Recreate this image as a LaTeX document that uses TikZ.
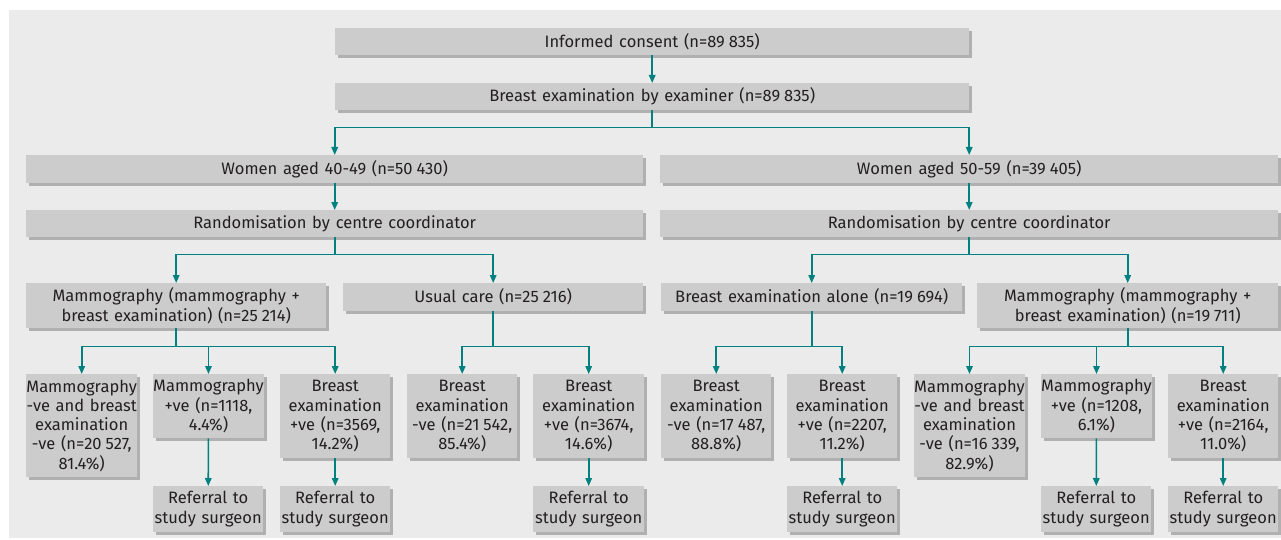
\documentclass[tikz,border=0pt]{standalone}
\usepackage{fontspec}
\setmainfont{Fira Sans}[WordSpace=1.3]
\usetikzlibrary{arrows.meta,shadows}
\definecolor{bggray}{HTML}{EBEBEB}
\definecolor{boxgray}{HTML}{CCCCCC}
\definecolor{shadowgray}{HTML}{B0B0B0}
\definecolor{arrowteal}{HTML}{00807F}
\definecolor{txt}{HTML}{231F20}
\newcommand{\ns}{\hspace{4pt}}
\begin{document}
\begin{tikzpicture}[x=1pt,y=-1pt,
  font=\fontsize{16.5}{19.3}\selectfont,
  box/.style={fill=boxgray, draw=none, inner sep=0pt, align=center, text=txt, anchor=north west,
    drop shadow={fill=shadowgray, opacity=1, shadow xshift=3pt, shadow yshift=-3pt}},
  arr/.style={draw=arrowteal, line width=1.6pt, -{Triangle[length=8pt,width=6.5pt]}}]
\useasboundingbox (0,0) rectangle (1281,540);
\fill[bggray] (9,10) rectangle (1281,538);
% top
\node[box, minimum width=634pt, minimum height=27pt] (consent) at (335,28) {Informed consent (n=89\ns835)};
\node[box, minimum width=634pt, minimum height=27pt] (exam) at (335,83) {Breast examination by examiner (n=89\ns835)};
\node[box, minimum width=617pt, minimum height=28pt] (w40) at (26,155) {Women aged 40-49 (n=50\ns430)};
\node[box, minimum width=618pt, minimum height=28pt] (w50) at (660,155) {Women aged 50-59 (n=39\ns405)};
\node[box, minimum width=617pt, minimum height=27pt] (r40) at (26,210) {Randomisation by centre coordinator};
\node[box, minimum width=618pt, minimum height=27pt] (r50) at (660,210) {Randomisation by centre coordinator};
% second level
\node[box, minimum width=300pt, minimum height=45pt] (mam40) at (26,283) {Mammography (mammography +\\breast examination) (n=25\ns214)};
\node[box, minimum width=300pt, minimum height=28pt] (usual) at (343,283) {Usual care (n=25\ns216)};
\node[box, minimum width=301pt, minimum height=28pt] (alone) at (661,283) {Breast examination alone (n=19\ns694)};
\node[box, minimum width=301pt, minimum height=45pt] (mam50) at (977,283) {Mammography (mammography +\\breast examination) (n=19\ns711)};
% children
\node[box, minimum width=111pt, minimum height=103pt] (c1) at (26,374) {Mammography\\-ve and breast\\examination\\-ve (n=20\ns527,\\81.4\%)};
\node[box, minimum width=110pt, minimum height=64pt] (c2) at (153,374) {Mammography\\+ve (n=1118,\\4.4\%)};
\node[box, minimum width=110pt, minimum height=84pt] (c3) at (280,374) {Breast\\examination\\+ve (n=3569,\\14.2\%)};
\node[box, minimum width=110pt, minimum height=84pt] (c4) at (407,374) {Breast\\examination\\-ve (n=21\ns542,\\85.4\%)};
\node[box, minimum width=111pt, minimum height=84pt] (c5) at (533,374) {Breast\\examination\\+ve (n=3674,\\14.6\%)};
\node[box, minimum width=110pt, minimum height=84pt] (c6) at (661,374) {Breast\\examination\\-ve (n=17\ns487,\\88.8\%)};
\node[box, minimum width=110pt, minimum height=84pt] (c7) at (787,374) {Breast\\examination\\+ve (n=2207,\\11.2\%)};
\node[box, minimum width=110pt, minimum height=103pt] (c8) at (914,374) {Mammography\\-ve and breast\\examination\\-ve (n=16\ns339,\\82.9\%)};
\node[box, minimum width=110pt, minimum height=64pt] (c9) at (1041,374) {Mammography\\+ve (n=1208,\\6.1\%)};
\node[box, minimum width=110pt, minimum height=84pt] (c10) at (1168,374) {Breast\\examination\\+ve (n=2164,\\11.0\%)};
% referrals
\node[box, minimum width=110pt, minimum height=46pt] (f2) at (153,486) {Referral to\\study surgeon};
\node[box, minimum width=110pt, minimum height=46pt] (f3) at (280,486) {Referral to\\study surgeon};
\node[box, minimum width=111pt, minimum height=46pt] (f5) at (533,486) {Referral to\\study surgeon};
\node[box, minimum width=110pt, minimum height=46pt] (f7) at (787,486) {Referral to\\study surgeon};
\node[box, minimum width=110pt, minimum height=46pt] (f9) at (1041,486) {Referral to\\study surgeon};
\node[box, minimum width=110pt, minimum height=46pt] (f10) at (1168,486) {Referral to\\study surgeon};
% connectors
\draw[arr] (consent) -- (exam);
\draw[arr] (exam.south) -- ++(0,17) -| (w40.north);
\draw[arr] (exam.south) -- ++(0,17) -| (w50.north);
\draw[arr] (w40) -- (r40);
\draw[arr] (w50) -- (r50);
\draw[arr] (r40.south) -- ++(0,17) -| (mam40.north);
\draw[arr] (r40.south) -- ++(0,17) -| (usual.north);
\draw[arr] (r50.south) -- ++(0,17) -| (alone.north);
\draw[arr] (r50.south) -- ++(0,17) -| (mam50.north);
\draw[arr] (mam40.south) -- ++(0,18) -| (c1.north);
\draw[arr] (mam40.south) -- ++(0,18) -| (c2.north);
\draw[arr] (mam40.south) -- ++(0,18) -| (c3.north);
\draw[arr] (usual.south) -- ++(0,35) -| (c4.north);
\draw[arr] (usual.south) -- ++(0,35) -| (c5.north);
\draw[arr] (alone.south) -- ++(0,35) -| (c6.north);
\draw[arr] (alone.south) -- ++(0,35) -| (c7.north);
\draw[arr] (mam50.south) -- ++(0,18) -| (c8.north);
\draw[arr] (mam50.south) -- ++(0,18) -| (c9.north);
\draw[arr] (mam50.south) -- ++(0,18) -| (c10.north);
\draw[arr] (c2) -- (f2);
\draw[arr] (c3) -- (f3);
\draw[arr] (c5) -- (f5);
\draw[arr] (c7) -- (f7);
\draw[arr] (c9) -- (f9);
\draw[arr] (c10) -- (f10);
\end{tikzpicture}
\end{document}
